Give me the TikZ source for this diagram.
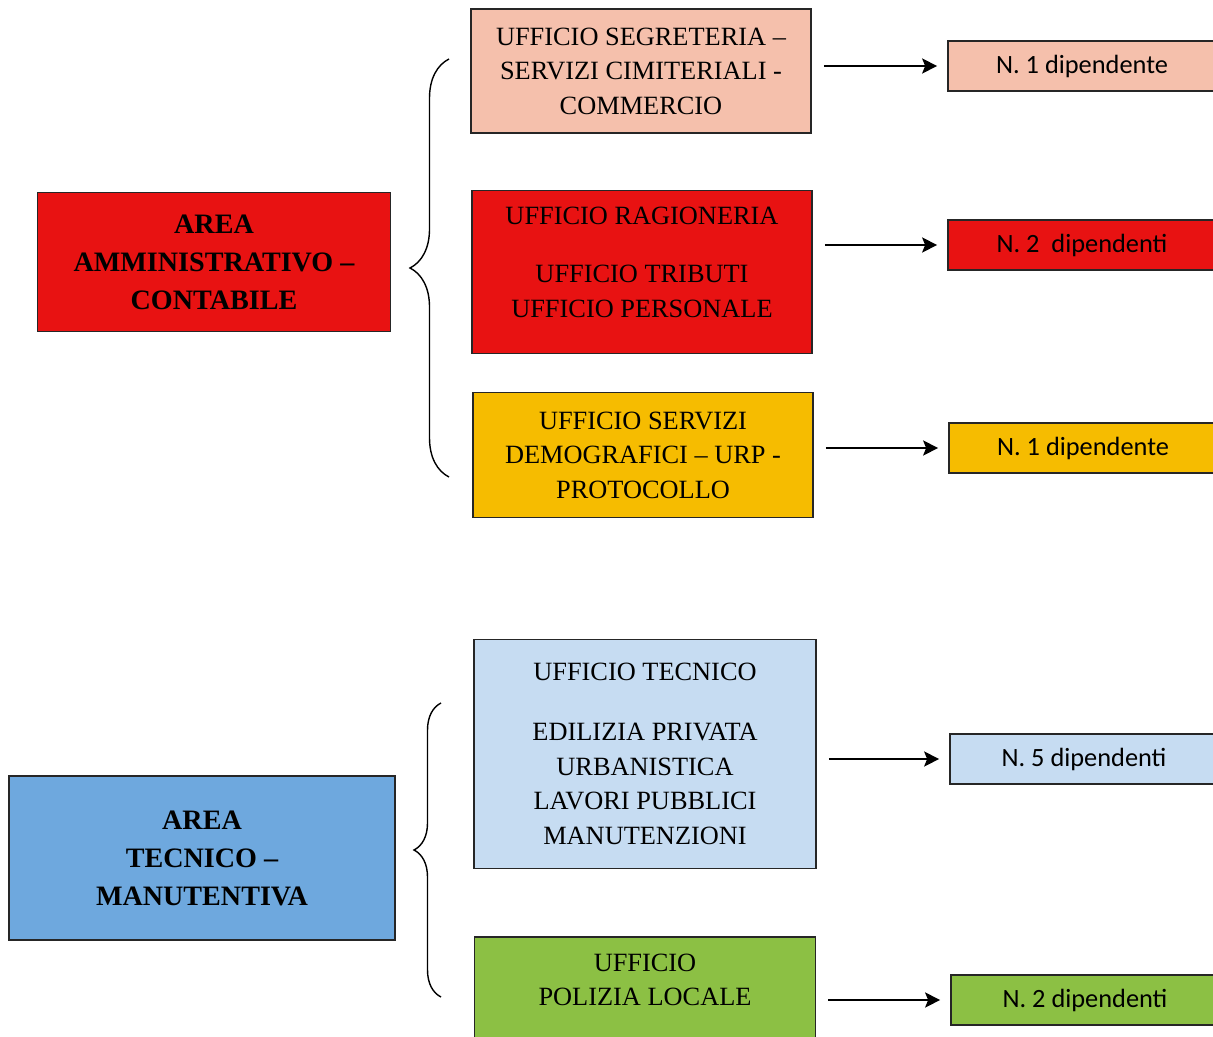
\documentclass[tikz,border=0pt]{standalone}
\usepackage{fontspec}
\setmainfont{Liberation Serif}
\newfontfamily\cntfont{Carlito}
\usetikzlibrary{arrows.meta, decorations.pathreplacing}
\definecolor{areared}{RGB}{232,18,18}
\definecolor{salmon}{RGB}{245,192,172}
\definecolor{gold}{RGB}{246,188,0}
\definecolor{paleblue}{RGB}{198,220,242}
\definecolor{areablue}{RGB}{110,168,222}
\definecolor{leafgreen}{RGB}{140,192,68}
\tikzset{
    % node styles
    area/.style = {draw=black!85, line width=1pt, align=center, font=\bfseries\fontsize{16}{21.6}\selectfont},
    office/.style = {draw=black!85, line width=1pt, align=center, minimum width=6.8cm, font=\fontsize{15}{19.6}\selectfont},
    count/.style = {draw=black!85, line width=1pt, minimum width=5.36cm, minimum height=1cm, font=\cntfont\fontsize{15}{18}\selectfont},
    % arrow style
    post/.style = {-{Stealth[length=0.3cm, width=0.3cm, inset=0.06cm]}, line width=1.3pt, shorten <=0.24cm, shorten >=0.2cm},
    % brace style
    group/.style = {decorate, line width=0.8pt}
}
\begin{document}
\begin{tikzpicture}[x=0.02cm, y=-0.02cm]
        \useasboundingbox (0,0) rectangle (1213,1037);
        \fill[white] (0,0) rectangle (1213,1037);
        \clip (0,0) rectangle (1213,1037);

        % first area
        \node[area, fill=areared, minimum width=7.06cm, minimum height=2.78cm] (a1) at (214,262)
            {AREA\\AMMINISTRATIVO --\\CONTABILE};
        \draw[group, decoration={brace, amplitude=0.78cm}] (449,477) -- (449,59);

        \node[office, fill=salmon, minimum height=2.48cm] (o1) at (641,71)
            {UFFICIO SEGRETERIA --\\SERVIZI CIMITERIALI -\\COMMERCIO};
        \node[office, fill=areared, minimum height=3.26cm] (o2) at (642,272)
            {UFFICIO RAGIONERIA\\[0.49cm]UFFICIO TRIBUTI\\UFFICIO PERSONALE\rule[-0.4cm]{0pt}{0pt}};
        \node[office, fill=gold, minimum height=2.5cm] (o3) at (643,455)
            {UFFICIO SERVIZI\\DEMOGRAFICI -- URP -\\PROTOCOLLO};

        \node[count, fill=salmon] (c1) at (1082,66) {N. 1 dipendente};
        \node[count, fill=areared] (c2) at (1082,245) {N. 2\ \ dipendenti};
        \node[count, fill=gold] (c3) at (1083,448) {N. 1 dipendente};

        \draw[post] (c1 -| o1.east) -- (c1.west);
        \draw[post] (c2 -| o2.east) -- (c2.west);
        \draw[post] (c3 -| o3.east) -- (c3.west);

        % second area
        \node[area, fill=areablue, minimum width=7.72cm, minimum height=3.28cm] (a2) at (202,858)
            {AREA\\TECNICO --\\MANUTENTIVA};
        \draw[group, decoration={brace, amplitude=0.54cm}] (441,997) -- (441,703);

        \node[office, fill=paleblue, minimum width=6.84cm, minimum height=4.58cm] (o4) at (645,754)
            {UFFICIO TECNICO\\[0.51cm]EDILIZIA PRIVATA\\URBANISTICA\\LAVORI PUBBLICI\\MANUTENZIONI};
        \node[office, fill=leafgreen, minimum width=6.82cm, minimum height=2.32cm] (o5) at (645,995)
            {UFFICIO\\POLIZIA LOCALE\rule[-0.6cm]{0pt}{0pt}};

        \node[count, fill=paleblue] (c4) at (1084,759) {N. 5 dipendenti};
        \node[count, fill=leafgreen] (c5) at (1085,1000) {N. 2 dipendenti};

        \draw[post] (c4 -| o4.east) -- (c4.west);
        \draw[post] (c5 -| o5.east) -- (c5.west);
\end{tikzpicture}
\end{document}
